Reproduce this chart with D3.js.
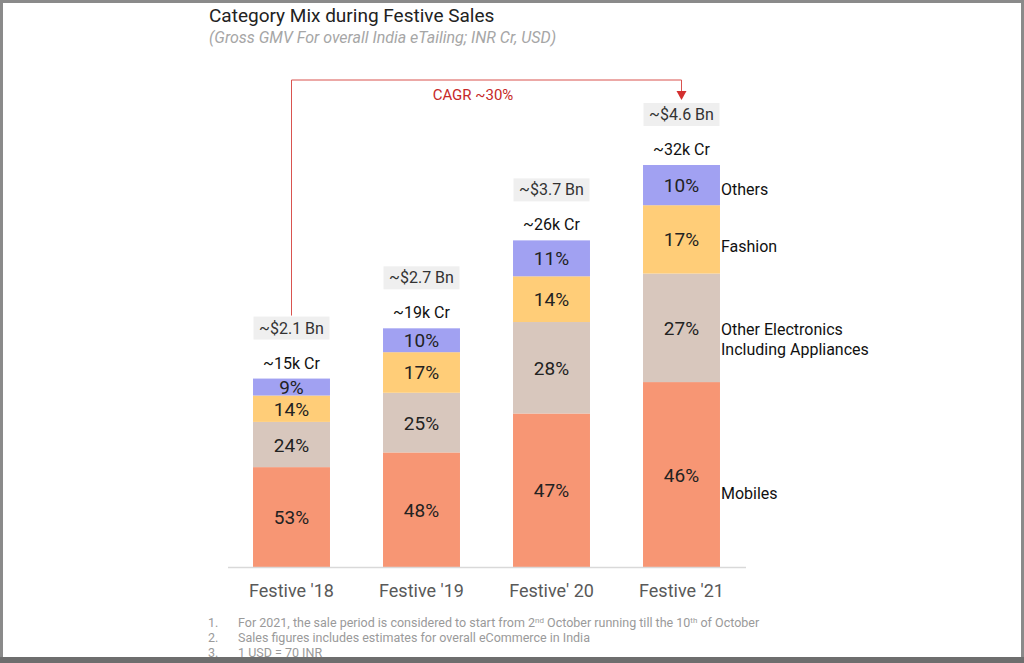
<!DOCTYPE html>
<html><head><meta charset="utf-8">
<script src="https://cdn.jsdelivr.net/npm/d3@7"></script>
<style>body{margin:0;background:#fff;font-family:Roboto,sans-serif}</style>
</head><body><svg id="c" width="1024" height="663"></svg>
<script>
const categories = ["Festive '18","Festive '19","Festive' 20","Festive '21"];
const totalsK = [15,19,26,32];
const totalLabels = ["~15k Cr","~19k Cr","~26k Cr","~32k Cr"];
const usdLabels = ["~$2.1 Bn","~$2.7 Bn","~$3.7 Bn","~$4.6 Bn"];
const segNames = ["Mobiles","Other Electronics\nIncluding Appliances","Fashion","Others"];
const mobiles = [53,48,47,46];
const otherElec = [24,25,28,27];
const fashion = [14,17,14,17];
const others = [9,10,11,10];
const colors = ["#f79674","#d8c7bd","#ffcd78","#a1a1f2"];
const footnotes = ["For 2021, the sale period is considered to start from 2nd October running till the 10th of October","Sales figures includes estimates for  overall eCommerce in India","1 USD = 70 INR"];

const svg = d3.select("#c");
svg.append("rect").attr("x",1.5).attr("y",1.5).attr("width",1021).attr("height",660).attr("fill","none").attr("stroke","#8a8a8a").attr("stroke-width",3);
svg.append("rect").attr("x",0).attr("y",657).attr("width",1024).attr("height",6).attr("fill","#6e6e6e");

const x = d3.scaleBand().domain(categories).range([226.5,746.5]).paddingInner(0.408).paddingOuter(0.204);
const y = d3.scaleLinear().domain([0,32]).range([567,165]);

svg.append("text").attr("x",209).attr("y",22).attr("font-size",19).attr("fill","#222").text("Category Mix during Festive Sales");
svg.append("text").attr("x",209).attr("y",43).attr("font-size",16).attr("font-style","italic").attr("fill","#a6a6a6").text("(Gross GMV For overall India eTailing; INR Cr, USD)");

const series=[mobiles,otherElec,fashion,others];
categories.forEach((c,i)=>{
  let acc=0;
  series.forEach((s,k)=>{
    const v0=totalsK[i]*acc/100, v1=totalsK[i]*(acc+s[i])/100;
    svg.append("rect").attr("x",x(c)).attr("width",x.bandwidth()).attr("y",y(v1)).attr("height",y(v0)-y(v1)).attr("fill",colors[k]);
    svg.append("text").attr("x",x(c)+x.bandwidth()/2).attr("y",(y(v0)+y(v1))/2+7).attr("text-anchor","middle").attr("font-size",19).attr("fill","#222").text(s[i]+"%");
    acc+=s[i];
  });
  const cx=x(c)+x.bandwidth()/2, top=y(totalsK[i]);
  svg.append("text").attr("x",cx).attr("y",top-10).attr("text-anchor","middle").attr("font-size",16).attr("fill","#111").text(totalLabels[i]);
  svg.append("rect").attr("x",cx-38).attr("y",top-62).attr("width",76).attr("height",23).attr("fill","#efefef");
  svg.append("text").attr("x",cx).attr("y",top-45).attr("text-anchor","middle").attr("font-size",16).attr("fill","#333").text(usdLabels[i]);
  svg.append("text").attr("x",cx).attr("y",597).attr("text-anchor","middle").attr("font-size",18).attr("fill","#595959").text(c);
});
svg.append("line").attr("x1",228).attr("x2",746).attr("y1",567.5).attr("y2",567.5).attr("stroke","#d9d9d9").attr("stroke-width",1.5);

const last=3; let acc=0;
series.forEach((s,k)=>{
  const v0=totalsK[last]*acc/100, v1=totalsK[last]*(acc+s[last])/100; acc+=s[last];
  const lines=segNames[k].split("\n"); const h=y(v0)-y(v1); const my=(y(v0)+y(v1))/2+0.1*h;
  lines.forEach((l,j)=>svg.append("text").attr("x",721).attr("y",my+6+(j-(lines.length-1)/2)*20).attr("font-size",16).attr("fill","#111").text(l));
});

const x1=x(categories[0])+x.bandwidth()/2, x2=x(categories[3])+x.bandwidth()/2;
svg.append("path").attr("d",`M${x1},${y(totalsK[0])-63}V80H${x2}V92`).attr("fill","none").attr("stroke","#d9534f").attr("stroke-width",1);
svg.append("path").attr("d",`M${x2-5},91L${x2+5},91L${x2},100Z`).attr("fill","#d32f2f");
svg.append("text").attr("x",473).attr("y",100).attr("text-anchor","middle").attr("font-size",15).attr("fill","#c62828").text("CAGR ~30%");

footnotes.forEach((f,i)=>{
  const yy=627+i*15;
  svg.append("text").attr("x",208).attr("y",yy).attr("font-size",12.5).attr("fill","#9a9a9a").text((i+1)+".");
  const t=svg.append("text").attr("x",238).attr("y",yy).attr("font-size",12.5).attr("fill","#9a9a9a");
  if(i===0){
    t.append("tspan").text("For 2021, the sale period is considered to start from 2");
    t.append("tspan").attr("font-size",8).attr("dy",-4).text("nd");
    t.append("tspan").attr("dy",4).text(" October running till the 10");
    t.append("tspan").attr("font-size",8).attr("dy",-4).text("th");
    t.append("tspan").attr("dy",4).text(" of October");
  } else t.text(f);
});
</script></body></html>
